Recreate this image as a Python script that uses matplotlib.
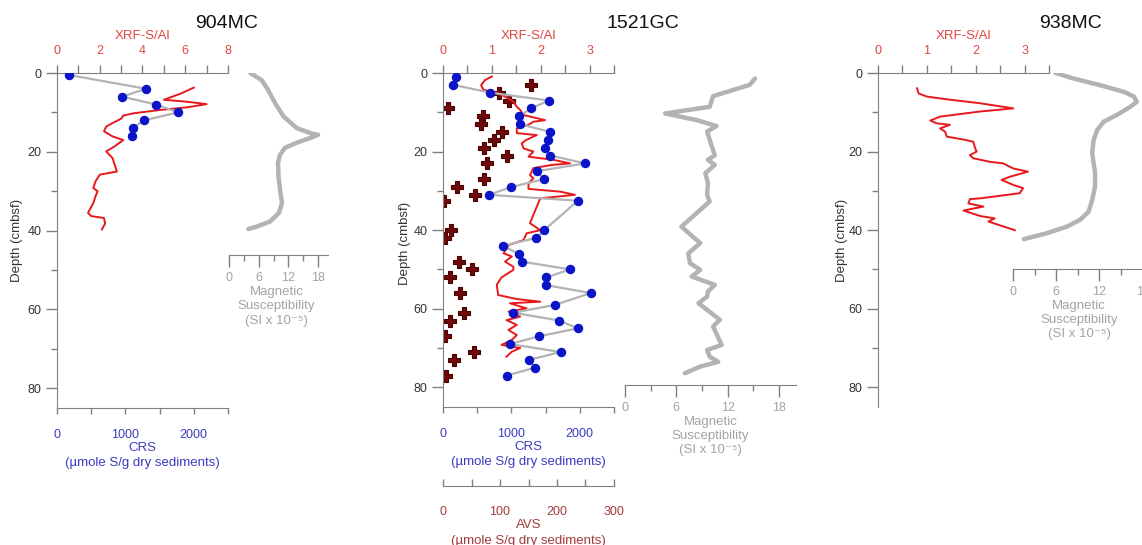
import matplotlib
matplotlib.use('Agg')
import matplotlib.pyplot as plt
from matplotlib.ticker import MultipleLocator

plt.rcParams['font.family'] = ['Liberation Sans', 'DejaVu Sans']
plt.rcParams['font.size'] = 8.5

# ---- 904MC ----
p1_crs_depth = [0.5, 4, 6, 8, 10, 12, 14, 16]
p1_crs = [175, 1300, 950, 1450, 1770, 1270, 1110, 1100]
p1_xrf_depth = [3.7, 5.2, 6.0, 6.8, 7.3, 7.9, 8.7, 9.4, 10.2, 10.8, 11.6, 12.7, 13.6, 14.8,
                16.1, 17.0, 18.6, 19.9, 21.6, 25.0, 25.8, 27.5, 29.2, 30.0, 31.3, 33.0, 35.5,
                36.3, 36.8, 38.2, 39.7]
p1_xrf = [6.4, 5.8, 5.4, 5.0, 6.1, 7.0, 6.1, 4.8, 3.6, 3.1, 3.0, 2.6, 2.3, 2.2,
          2.6, 3.1, 2.7, 2.3, 2.6, 2.8, 2.0, 1.8, 1.7, 1.9, 1.8, 1.7, 1.45,
          1.6, 2.2, 2.25, 2.1]
p1_mag_depth = [0, 1.8, 4.3, 7.6, 11, 14, 15.4, 15.7, 16.5, 17.7, 19, 20.8, 22.8, 26.3,
                30.4, 33, 35.5, 37.7, 39, 39.6]
p1_mag = [4.3, 6.6, 7.9, 9.3, 11, 13.7, 16.8, 18, 16.4, 13.7, 11.3, 10.3, 9.9, 10,
          10.4, 10.7, 10.1, 8.3, 5.6, 3.9]

# ---- 1521GC ----
p2_crs_depth = [1, 3, 5, 7, 9, 11, 13, 15, 17, 19, 21, 23, 25, 27, 29, 31, 32.5,
                40, 42, 44, 46, 48, 50, 52, 54, 56, 59, 61, 63, 65, 67, 69, 71, 73, 75, 77]
p2_crs = [190, 150, 685, 1545, 1290, 1110, 1120, 1570, 1535, 1490, 1570, 2080, 1370, 1480,
          1000, 670, 1970, 1480, 1360, 870, 1110, 1150, 1860, 1510, 1510, 2160, 1640, 1030,
          1700, 1970, 1400, 980, 1720, 1260, 1340, 930]
p2_avs_depth = [3, 5, 7, 9, 11, 13, 15, 17, 19, 21, 23, 27, 29, 31, 32.5, 40, 42, 48, 50,
                52, 56, 61, 63, 67, 71, 73, 77]
p2_avs = [154, 98, 116, 9, 70, 66, 104, 89, 72, 113, 77, 72, 24, 56, 2, 14, 3, 28, 51,
          12, 29, 36, 13, 3, 54, 19, 6]
p2_xrf_depth = [0.9, 1.8, 3.1, 4.3, 5.0, 6.0, 7.3, 8.6, 9.4, 10.7, 12.0, 12.4, 13.2, 14.1,
                15.3, 15.8, 17.0, 17.9, 19.2, 20.0, 21.3, 22.1, 23.0, 23.4, 24.2, 26.0, 26.8,
                28.1, 29.5, 30.2, 31.0, 31.9, 34.0, 38.2, 40.0, 40.8, 42.5, 43.8, 45.9, 46.7,
                48.0, 49.3, 50.1, 52.0, 53.9, 56.5, 57.5, 58.2, 58.6, 59.9, 60.7, 62.0, 62.9,
                64.1, 65.4, 66.7, 67.9, 69.2, 70.0, 70.9, 72.2]
p2_xrf = [1.0, 0.86, 0.78, 0.83, 1.1, 1.27, 1.44, 1.51, 1.58, 1.65, 2.09, 1.85, 1.75, 1.51,
          1.51, 1.92, 1.71, 1.61, 1.65, 1.85, 1.75, 2.26, 2.6, 2.23, 1.85, 1.78, 1.85,
          1.75, 1.75, 2.4, 2.7, 1.99, 1.92, 1.78, 1.99, 1.71, 1.65, 1.34, 1.24, 1.41,
          1.27, 1.44, 1.44, 1.2, 1.1, 1.13, 1.5, 1.99, 1.37, 1.71, 1.34, 1.58, 1.3,
          1.51, 1.34, 1.51, 1.41, 1.2, 1.58, 1.41, 1.3]
p2_mag_depth = [1.4, 3.0, 5.9, 8.6, 10.3, 12, 13.5, 14.9, 18.3, 20.9, 22.1, 23.4, 25.5, 28.1,
                31, 32.7, 39.1, 43.3, 45.9, 48.4, 50.1, 51.8, 53.9, 55.6, 56.9, 58.6, 62.8,
                64.5, 69.2, 70.5, 72.2, 73.5, 74.7, 76.4]
p2_mag = [15.2, 14.6, 10.3, 9.9, 4.7, 8.4, 10.7, 9.6, 10.1, 10.5, 9.7, 10.5, 9.4, 9.7,
          9.6, 9.9, 6.6, 8.8, 7.4, 7.6, 8.8, 7.8, 10.5, 9.7, 9.6, 8.6, 11.1,
          10.3, 11.3, 9.6, 9.9, 10.9, 8.8, 7.0]

# ---- 938MC ----
p3_xrf_depth = [3.9, 5.2, 6, 6.7, 7.7, 9, 9.8, 11.1, 12.1, 12.8, 13.2, 14.1, 14.9, 16.2, 17,
                17.5, 19.2, 20, 20.9, 21.7, 22.6, 23, 24.3, 25.1, 26.4, 27.2, 28.5, 29.3,
                30.6, 31.9, 32.1, 33.2, 34, 34.4, 35, 35.7, 36.4, 37, 37.8, 38.9, 40]
p3_xrf = [0.8, 0.83, 1.0, 1.41, 2.09, 2.77, 2.09, 1.27, 1.07, 1.2, 1.47, 1.27, 1.37, 1.41, 1.78,
          1.95, 1.99, 2.02, 1.88, 1.95, 2.29, 2.56, 2.77, 3.07, 2.7, 2.53, 2.77, 2.97,
          2.9, 2.09, 1.88, 1.85, 2.16, 1.99, 1.75, 1.92, 2.09, 2.39, 2.26, 2.53, 2.8]
p3_mag_depth = [0, 1.4, 3.1, 4.8, 6, 7.3, 8.6, 10.7, 12.4, 14.5, 17, 20.4, 25.5, 28.9, 32.3,
                35.3, 37.4, 39.1, 40.8, 42.3]
p3_mag = [5.9, 8.4, 12.1, 15.4, 16.8, 17.2, 16.3, 14.4, 12.6, 11.7, 11.2, 11, 11.4, 11.4, 11,
          10.5, 9.3, 7.5, 4.7, 1.5]

W, H = 1142, 545
RED_LINE = '#e8191c'
RED_TXT = '#e2453f'
BLUE = '#0a14c8'
BLUE_TXT = '#3b3bc2'
GRAY_LINE = '#b3b3b3'
GRAY_TXT = '#a3a3a3'
AVS_COL = '#6e0a0a'
AVS_TXT = '#a33a3a'
SPINE = '#808080'
TXT = '#333333'

fig = plt.figure(figsize=(W / 100, H / 100), dpi=100)


def rect(l, r, t, b):
    return [l / W, 1 - b / H, (r - l) / W, (b - t) / H]


def depth_axis(ax, label_x, label_y):
    ax.set_ylim(85, 0)
    ax.yaxis.set_major_locator(MultipleLocator(20))
    ax.yaxis.set_minor_locator(MultipleLocator(10))
    ax.tick_params(axis='y', which='major', length=8, width=1, color=SPINE,
                   labelcolor=TXT, pad=3, labelsize=9)
    ax.tick_params(axis='y', which='minor', length=4, width=1, color=SPINE)
    ax.set_ylabel('Depth (cmbsf)', color=TXT, fontsize=9.5)
    ax.yaxis.set_label_coords(label_x, label_y)
    ax.spines['left'].set_color(SPINE)
    ax.spines['right'].set_visible(False)
    ax.spines['top'].set_visible(False)
    ax.patch.set_visible(False)


def xrf_axis(ax, xmax, major, minor):
    ax.set_xlim(0, xmax)
    ax.xaxis.set_ticks_position('top')
    ax.xaxis.set_label_position('top')
    ax.xaxis.set_major_locator(MultipleLocator(major))
    ax.xaxis.set_minor_locator(MultipleLocator(minor))
    ax.tick_params(axis='x', which='both', length=5.5, width=1, color=SPINE,
                   labelcolor=RED_TXT, pad=6, labelsize=9)
    ax.set_xlabel('XRF-S/Al', color=RED_TXT, fontsize=9.5, labelpad=4)
    for s in ['left', 'right', 'bottom']:
        ax.spines[s].set_visible(False)
    ax.spines['top'].set_visible(True)
    ax.spines['top'].set_color(SPINE)
    ax.patch.set_visible(False)


def crs_axis(ax):
    ax.set_xlim(0, 2500)
    ax.xaxis.set_major_locator(MultipleLocator(1000))
    ax.xaxis.set_minor_locator(MultipleLocator(500))
    ax.tick_params(axis='x', which='both', length=4, width=1, color=SPINE,
                   labelcolor=BLUE_TXT, pad=11, labelsize=9)
    ax.set_xlabel('CRS\n(\u00b5mole S/g dry sediments)', color=BLUE_TXT, fontsize=9.5,
                  labelpad=1, linespacing=1.3)
    ax.spines['bottom'].set_color(SPINE)


def mag_axis(ax, bottom_depth, height_px, label_x=0.5):
    ax.set_xlim(0, 20)
    ax.set_ylim(bottom_depth, 0)
    ax.xaxis.set_major_locator(MultipleLocator(6))
    ax.xaxis.set_minor_locator(MultipleLocator(3))
    ax.tick_params(axis='x', which='major', length=8.5, width=1, color=SPINE,
                   labelcolor=GRAY_TXT, pad=4, labelsize=9)
    ax.tick_params(axis='x', which='minor', length=4, width=1, color=SPINE)
    ax.set_yticks([])
    for s in ['left', 'right', 'top']:
        ax.spines[s].set_visible(False)
    ax.spines['bottom'].set_color(SPINE)
    ax.set_xlabel('Magnetic\nSusceptibility\n(SI x 10\u207b\u2075)', color=GRAY_TXT,
                  fontsize=9.5, linespacing=1.25)
    ax.xaxis.set_label_coords(label_x, -31 / height_px)
    ax.patch.set_visible(False)


# ---------- Panel 1: 904MC ----------
ax1 = fig.add_axes(rect(57, 228, 73, 408))
ax1x = ax1.twiny()
ax1.set_zorder(3)
ax1x.set_zorder(2)
depth_axis(ax1, -0.20, 0.5)
crs_axis(ax1)
xrf_axis(ax1x, 8, 2, 1)
ax1x.plot(p1_xrf, p1_xrf_depth, color=RED_LINE, lw=1.4)
ax1.plot(p1_crs, p1_crs_depth, color=GRAY_LINE, lw=1.6)
ax1.plot(p1_crs, p1_crs_depth, 'o', color=BLUE, ms=5.8, mec=BLUE)
ax1.set_ylim(85, 0)

m1 = fig.add_axes(rect(229, 328, 73, 255))
m1.plot(p1_mag, p1_mag_depth, color=GRAY_LINE, lw=3.2, solid_capstyle='round')
mag_axis(m1, 46.2, 182, 0.48)

# ---------- Panel 2: 1521GC ----------
ax2 = fig.add_axes(rect(443, 614, 73, 407))
ax2a = ax2.twiny()
ax2x = ax2.twiny()
ax2.set_zorder(4)
ax2x.set_zorder(3)
ax2a.set_zorder(2)
depth_axis(ax2, -0.187, 0.49)
crs_axis(ax2)
xrf_axis(ax2x, 3.5, 1, 0.5)

ax2a.set_xlim(0, 300)
ax2a.xaxis.set_ticks_position('bottom')
ax2a.xaxis.set_label_position('bottom')
ax2a.spines['bottom'].set_position(('outward', 57))
for s in ['left', 'right', 'top']:
    ax2a.spines[s].set_visible(False)
ax2a.spines['bottom'].set_color(SPINE)
ax2a.xaxis.set_major_locator(MultipleLocator(100))
ax2a.xaxis.set_minor_locator(MultipleLocator(50))
ax2a.tick_params(axis='x', which='both', direction='in', length=5, width=1, color=SPINE,
                 labelcolor=AVS_TXT, pad=14, labelsize=9)
ax2a.set_xlabel('AVS\n(\u00b5mole S/g dry sediments)', color=AVS_TXT, fontsize=9.5,
                labelpad=1, linespacing=1.4)
ax2a.patch.set_visible(False)

ax2a.plot(p2_avs, p2_avs_depth, 'P', color=AVS_COL, mec='#4a0000', mew=0.8, ms=8.5)
ax2x.plot(p2_xrf, p2_xrf_depth, color=RED_LINE, lw=1.4)
ax2.plot(p2_crs, p2_crs_depth, color=GRAY_LINE, lw=1.6)
ax2.plot(p2_crs, p2_crs_depth, 'o', color=BLUE, ms=5.8, mec=BLUE)
ax2.set_ylim(85, 0)

m2 = fig.add_axes(rect(625, 796, 73, 385))
m2.plot(p2_mag, p2_mag_depth, color=GRAY_LINE, lw=3.2, solid_capstyle='round')
mag_axis(m2, 79.4, 312, 0.5)

# ---------- Panel 3: 938MC ----------
ax3 = fig.add_axes(rect(878, 1049, 73, 407))
depth_axis(ax3, -0.176, 0.5)
xrf_axis(ax3, 3.5, 1, 0.5)
ax3.spines['left'].set_visible(True)
ax3.spines['left'].set_color(SPINE)
ax3.spines['bottom'].set_visible(False)
ax3.plot(p3_xrf, p3_xrf_depth, color=RED_LINE, lw=1.4)
ax3.set_ylim(85, 0)

m3 = fig.add_axes(rect(1013, 1157, 73, 269))
m3.plot(p3_mag, p3_mag_depth, color=GRAY_LINE, lw=3.2, solid_capstyle='round')
mag_axis(m3, 49.9, 196, 0.46)

# titles
fig.text(227 / W, 1 - 23 / H, '904MC', fontsize=14, ha='center', va='center', color='#111111')
fig.text(643 / W, 1 - 23 / H, '1521GC', fontsize=14, ha='center', va='center', color='#111111')
fig.text(1071 / W, 1 - 23 / H, '938MC', fontsize=14, ha='center', va='center', color='#111111')

fig.savefig('out.png', dpi=100)
